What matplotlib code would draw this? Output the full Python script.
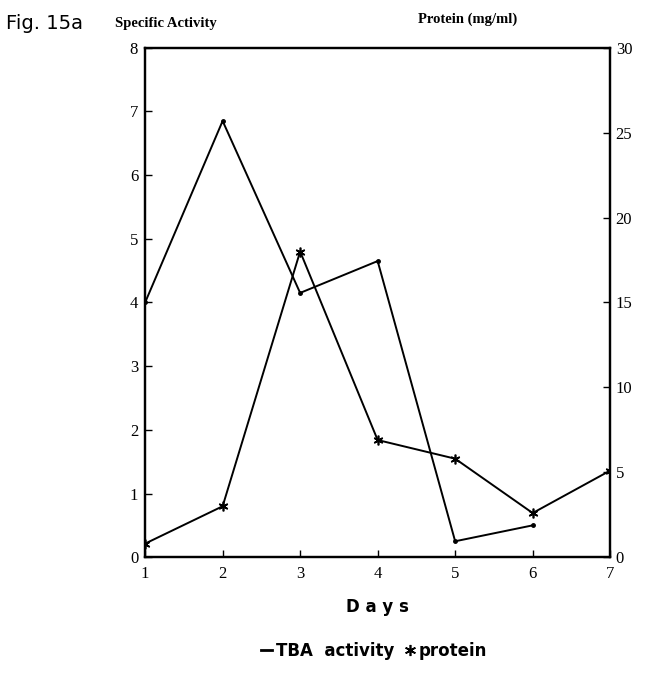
import matplotlib
matplotlib.use("Agg")
import matplotlib.pyplot as plt
from matplotlib.lines import Line2D

days = [1, 2, 3, 4, 5, 6, 7]
tba_days = [1, 2, 3, 4, 5, 6]
tba_activity = [4.0, 6.85, 4.15, 4.65, 0.25, 0.5]
protein = [0.8, 3.0, 18.0, 6.9, 5.8, 2.6, 5.1]
left_ticks = [0, 1, 2, 3, 4, 5, 6, 7, 8]
right_ticks = [0, 5, 10, 15, 20, 25, 30]

serif = "Liberation Serif"

fig = plt.figure(figsize=(6.45, 6.82), dpi=100)
ax = fig.add_axes([0.225, 0.183, 0.721, 0.747])
ax2 = ax.twinx()

ax.plot(tba_days, tba_activity, color="black", lw=1.4, marker=".", ms=5)
ax2.plot(days, protein, color="black", lw=1.4, marker=(6, 2, 0), ms=7, mew=1.2)

ax.set_xlim(1, 7)
ax.set_ylim(0, 8)
ax2.set_ylim(0, 30)
ax.set_xticks(days)
ax.set_yticks(left_ticks)
ax2.set_yticks(right_ticks)

for a in (ax, ax2):
    for s in a.spines.values():
        s.set_linewidth(1.6)
ax.tick_params(axis="y", direction="in", length=5, width=1, labelsize=12, pad=5)
ax.tick_params(axis="x", direction="in", length=5, width=1, labelsize=12, pad=6)
ax2.tick_params(axis="y", direction="in", length=5, width=1, labelsize=12, pad=4)
for lab in ax.get_xticklabels() + ax.get_yticklabels() + ax2.get_yticklabels():
    lab.set_fontfamily(serif)

ax.set_xlabel("D a y s", fontsize=12, fontweight="bold", labelpad=12)

fig.text(0.01, 0.965, "Fig. 15a", fontsize=14, ha="left", va="center")
fig.text(0.178, 0.965, "Specific Activity", fontsize=10.5, fontweight="bold",
         family=serif, ha="left", va="center")
fig.text(0.648, 0.972, "Protein (mg/ml)", fontsize=10.5, fontweight="bold",
         family=serif, ha="left", va="center")

handles = [Line2D([], [], color="black", lw=2),
           Line2D([], [], color="black", lw=0, marker=(6, 2, 0), ms=8, mew=1.2)]
fig.legend(handles, ["TBA  activity", "protein"], loc="center",
           bbox_to_anchor=(0.58, 0.045), ncol=2, frameon=False,
           handlelength=0.7, handletextpad=0.2, columnspacing=0.6,
           prop={"size": 12, "weight": "bold"})

fig.savefig("out.png", dpi=100)
